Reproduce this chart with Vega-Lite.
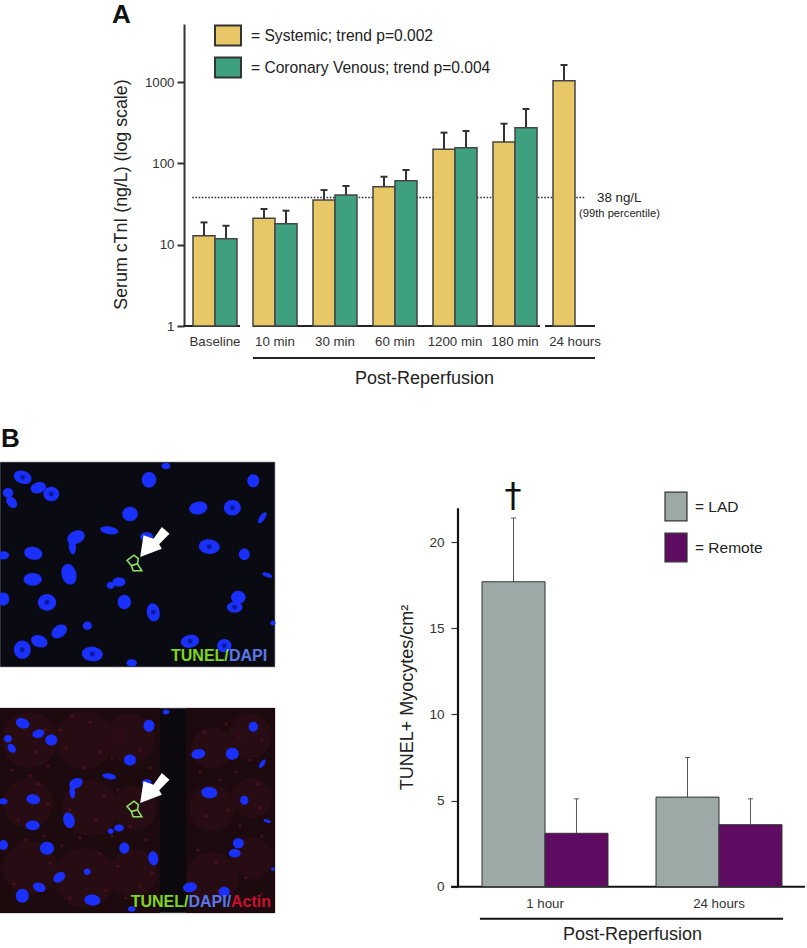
{
"$schema":"https://vega.github.io/schema/vega-lite/v6.json",
"width":807,"height":948,"autosize":{"type":"none"},"padding":0,"background":"white",
"config":{"font":"Liberation Sans","view":{"stroke":null},"text":{"font":"Liberation Sans"},"axis":{"labelColor":"#333","titleColor":"#222","grid":false,"domainColor":"#333","tickColor":"#333","titleFontWeight":"normal"}},
"datasets":{
"nuclei":[
{"x":22.7,"y":15.3,"len":14,"kind":"oval","angle":20,"ring":1},{"x":38.3,"y":25.7,"len":12,"kind":"oval","angle":345,"ring":0},{"x":51.3,"y":32,"len":12,"kind":"round","angle":0,"ring":1},{"x":8,"y":30.7,"len":8,"kind":"round","angle":0,"ring":0},{"x":11.7,"y":40.3,"len":10,"kind":"oval","angle":50,"ring":0},{"x":149,"y":17.7,"len":12,"kind":"round","angle":90,"ring":0},{"x":253.3,"y":18.7,"len":10,"kind":"round","angle":90,"ring":0},{"x":130,"y":52,"len":12,"kind":"round","angle":0,"ring":0},{"x":198.3,"y":46,"len":14,"kind":"oval","angle":350,"ring":0},{"x":232.3,"y":45.7,"len":13,"kind":"round","angle":0,"ring":1},{"x":262.3,"y":55.7,"len":10,"kind":"long","angle":305,"ring":0},{"x":109.3,"y":68.3,"len":14,"kind":"long","angle":10,"ring":0},{"x":76,"y":75.3,"len":14,"kind":"oval","angle":335,"ring":0},{"x":72.3,"y":84,"len":13,"kind":"long","angle":85,"ring":0},{"x":146.7,"y":74.7,"len":10,"kind":"oval","angle":0,"ring":0},{"x":209.3,"y":84.7,"len":16,"kind":"oval","angle":5,"ring":1},{"x":244.3,"y":92.3,"len":9,"kind":"round","angle":90,"ring":0},{"x":33.3,"y":91.3,"len":14,"kind":"oval","angle":10,"ring":0},{"x":3.3,"y":93.3,"len":9,"kind":"oval","angle":0,"ring":0},{"x":69,"y":112.3,"len":16,"kind":"oval","angle":75,"ring":0},{"x":32.7,"y":117.3,"len":14,"kind":"oval","angle":0,"ring":0},{"x":110.7,"y":123.3,"len":6,"kind":"round","angle":0,"ring":0},{"x":119,"y":120,"len":10,"kind":"oval","angle":0,"ring":0},{"x":3.3,"y":137,"len":10,"kind":"round","angle":90,"ring":0},{"x":47,"y":140.3,"len":14,"kind":"round","angle":0,"ring":1},{"x":124.3,"y":140,"len":11,"kind":"round","angle":90,"ring":0},{"x":153.3,"y":150.3,"len":14,"kind":"oval","angle":80,"ring":1},{"x":238.3,"y":135.3,"len":11,"kind":"round","angle":0,"ring":0},{"x":234.7,"y":145.3,"len":12,"kind":"oval","angle":0,"ring":1},{"x":267.3,"y":113,"len":8,"kind":"long","angle":20,"ring":0},{"x":59.3,"y":169.3,"len":13,"kind":"oval","angle":325,"ring":0},{"x":87.3,"y":163.7,"len":7,"kind":"round","angle":0,"ring":0},{"x":39.3,"y":179.3,"len":13,"kind":"oval","angle":20,"ring":0},{"x":22.3,"y":187.7,"len":14,"kind":"round","angle":90,"ring":1},{"x":92.3,"y":192,"len":16,"kind":"oval","angle":5,"ring":1},{"x":190,"y":179.3,"len":14,"kind":"oval","angle":350,"ring":1},{"x":224.3,"y":183.7,"len":11,"kind":"round","angle":0,"ring":1},{"x":131.7,"y":201,"len":8,"kind":"oval","angle":0,"ring":0},{"x":166,"y":4,"len":7,"kind":"oval","angle":0,"ring":0},{"x":273,"y":161,"len":4,"kind":"round","angle":0,"ring":0}],
"tissue":[{"x":0,"x2":160,"y":0,"y2":205},{"x":186,"x2":275,"y":0,"y2":205}],
"cells":[{"x":30,"y":32,"len":56},{"x":85,"y":32,"len":58},{"x":130,"y":30,"len":50},{"x":28,"y":95,"len":50},{"x":90,"y":100,"len":56},{"x":135,"y":100,"len":44},{"x":30,"y":160,"len":54},{"x":85,"y":170,"len":60},{"x":133,"y":165,"len":48},{"x":212,"y":40,"len":42},{"x":250,"y":28,"len":44},{"x":212,"y":100,"len":46},{"x":252,"y":90,"len":40},{"x":212,"y":170,"len":52},{"x":252,"y":150,"len":42}],
"speckle":[{"x":20,"y":12},{"x":45,"y":22},{"x":72,"y":8},{"x":90,"y":14},{"x":100,"y":44},{"x":112,"y":50},{"x":120,"y":28},{"x":140,"y":42},{"x":12,"y":62},{"x":30,"y":68},{"x":48,"y":58},{"x":66,"y":40},{"x":84,"y":60},{"x":104,"y":88},{"x":118,"y":82},{"x":96,"y":112},{"x":130,"y":118},{"x":146,"y":132},{"x":18,"y":112},{"x":48,"y":96},{"x":26,"y":132},{"x":62,"y":138},{"x":80,"y":130},{"x":100,"y":146},{"x":118,"y":158},{"x":140,"y":178},{"x":106,"y":182},{"x":70,"y":190},{"x":50,"y":155},{"x":14,"y":176},{"x":204,"y":24},{"x":226,"y":16},{"x":240,"y":28},{"x":262,"y":32},{"x":200,"y":64},{"x":220,"y":72},{"x":236,"y":64},{"x":258,"y":76},{"x":206,"y":108},{"x":228,"y":102},{"x":260,"y":100},{"x":198,"y":142},{"x":216,"y":154},{"x":240,"y":118},{"x":262,"y":128},{"x":196,"y":192},{"x":218,"y":182},{"x":246,"y":170},{"x":262,"y":186},{"x":36,"y":44},{"x":60,"y":22},{"x":150,"y":60},{"x":38,"y":76},{"x":70,"y":102},{"x":112,"y":128},{"x":44,"y":128},{"x":152,"y":165},{"x":126,"y":190},{"x":206,"y":84},{"x":250,"y":52}],
"serum":[
{"time":"Baseline","series":"Systemic","value":12.9,"upper":18.8},{"time":"Baseline","series":"Coronary Venous","value":11.8,"upper":17.1},
{"time":"10 min","series":"Systemic","value":21.1,"upper":27.5},{"time":"10 min","series":"Coronary Venous","value":18.1,"upper":26.2},
{"time":"30 min","series":"Systemic","value":35.5,"upper":47},{"time":"30 min","series":"Coronary Venous","value":40.9,"upper":52.7},
{"time":"60 min","series":"Systemic","value":51.7,"upper":68.6},{"time":"60 min","series":"Coronary Venous","value":61.3,"upper":83},
{"time":"1200 min","series":"Systemic","value":149,"upper":239},{"time":"1200 min","series":"Coronary Venous","value":156,"upper":250},
{"time":"180 min","series":"Systemic","value":183,"upper":308},{"time":"180 min","series":"Coronary Venous","value":275,"upper":467},
{"time":"24 hours","series":"Systemic","value":1040,"upper":1622}],
"tunel":[
{"time":"1 hour","site":"LAD","value":17.7,"upper":21.4},{"time":"1 hour","site":"Remote","value":3.1,"upper":5.1},
{"time":"24 hours","site":"LAD","value":5.2,"upper":7.5},{"time":"24 hours","site":"Remote","value":3.6,"upper":5.1}]
},
"layer":[
{"data":{"values":[{"a":-0.02,"b":0.917,"level":1},{"a":1.133,"b":5.917,"level":1},{"a":6,"b":6.833,"level":1},{"a":1.133,"b":6.833,"level":0.404}]},
 "layer":[
 {"mark":{"type":"rule","stroke":"#222","strokeWidth":2},"encoding":{"x":{"field":"a","type":"quantitative","axis":null,"scale":{"domain":[0,7],"range":[185,605],"nice":false,"zero":false}},"x2":{"field":"b"},"y":{"field":"level","type":"quantitative","axis":null,"scale":{"type":"log","domain":[1,5183],"range":[326,24],"nice":false}}}},
 {"data":{"values":[{"a":0.12,"b":6.67,"level":38}]},"mark":{"type":"rule","stroke":"#333","strokeWidth":1.6,"strokeDash":[1.6,1.6]},"encoding":{"x":{"field":"a","type":"quantitative"},"x2":{"field":"b"},"y":{"field":"level","type":"quantitative"}}},
 {"data":{"values":[{"a":6.867,"level":38,"t":"38 ng/L"}]},"mark":{"type":"text","align":"left","baseline":"middle","fontSize":13.3,"fill":"#222"},"encoding":{"x":{"field":"a","type":"quantitative"},"y":{"field":"level","type":"quantitative"},"text":{"field":"t"}}},
 {"data":{"values":[{"a":6.567,"level":23.9,"t":"(99th percentile)"}]},"mark":{"type":"text","align":"left","baseline":"middle","fontSize":11.2,"fill":"#222"},"encoding":{"x":{"field":"a","type":"quantitative"},"y":{"field":"level","type":"quantitative"},"text":{"field":"t"}}},
 {"data":{"values":[{"a":-1.217,"level":5333,"t":"A"}]},"mark":{"type":"text","align":"left","baseline":"alphabetic","fontSize":26,"fontWeight":"bold","fill":"#111"},"encoding":{"x":{"field":"a","type":"quantitative"},"y":{"field":"level","type":"quantitative"},"text":{"field":"t"}}}
 ]},
{"data":{"name":"serum"},
 "encoding":{"x":{"field":"time","type":"nominal","sort":null,"scale":{"domain":["Baseline","10 min","30 min","60 min","1200 min","180 min","24 hours"],"range":[185,605],"paddingInner":0,"paddingOuter":0},
   "axis":{"orient":"bottom","offset":-622,"domain":false,"ticks":false,"labelAngle":0,"labelFontSize":13.3,"labelPadding":8,"title":"Post-Reperfusion","titleFontSize":18,"titleX":424,"titleY":52,"titleBaseline":"middle"}},
  "xOffset":{"field":"series","type":"nominal","scale":{"domain":["Systemic","Coronary Venous"],"paddingInner":0,"paddingOuter":0.3636}}},
 "layer":[
 {"mark":{"type":"rule","stroke":"#333","strokeWidth":2},"encoding":{"y":{"field":"value","type":"quantitative","scale":{"type":"log","domain":[1,5183],"range":[326,24],"nice":false},
   "axis":{"orient":"left","offset":-184,"values":[1,10,100,1000],"format":"d","domainWidth":2,"tickWidth":2,"tickSize":7,"labelFontSize":13.3,"labelPadding":3,"title":"Serum cTnI (ng/L) (log scale)","titleFontSize":17.8,"titleX":-63,"titleY":194,"titleBaseline":"middle"}},"y2":{"field":"upper"}}},
 {"mark":{"type":"tick","color":"#333","size":7,"thickness":2,"opacity":1},"encoding":{"y":{"field":"upper","type":"quantitative"}}},
 {"mark":{"type":"bar","stroke":"#444","strokeWidth":1.5},"encoding":{"y":{"field":"value","type":"quantitative","stack":null},"y2":{"datum":1},
   "color":{"field":"series","type":"nominal","scale":{"domain":["Systemic","Coronary Venous"],"range":["#E8C766","#3FA080"]},
    "legend":{"orient":"none","legendX":217,"legendY":24.5,"title":null,"padding":0,"symbolType":"M-1.3,-1H1.3V1H-1.3Z","symbolSize":400,"symbolStrokeColor":"#333","symbolStrokeWidth":2,"symbolOpacity":1,"labelFontSize":15.6,"labelColor":"#222","labelOffset":12,"labelLimit":400,"rowPadding":4,"labelExpr":"datum.label == 'Systemic' ? '= Systemic; trend p=0.002' : '= Coronary Venous; trend p=0.004'"}}}}
 ]},
{"data":{"values":[{"x":0,"x2":275,"y":0,"y2":205}]},
 "layer":[
 {"mark":{"type":"rect","fill":"#0a0a12","stroke":"#999","strokeWidth":0.6},"encoding":{"x":{"field":"x","type":"quantitative","axis":null,"scale":{"domain":[0,275],"range":[0,275],"nice":false,"zero":false}},"x2":{"field":"x2"},"y":{"field":"y","type":"quantitative","axis":null,"scale":{"domain":[0,205],"range":[462,667],"nice":false,"zero":false}},"y2":{"field":"y2"}}},
 {"data":{"name":"nuclei"},"mark":{"type":"point","filled":true,"fill":"#1a30ff","opacity":1},"encoding":{"x":{"field":"x","type":"quantitative"},"y":{"field":"y","type":"quantitative"},"size":{"field":"len","type":"quantitative","legend":null,"scale":{"type":"pow","exponent":2,"domain":[1,20],"range":[1.7,680]}},"angle":{"field":"angle","type":"quantitative","scale":{"domain":[0,360],"range":[0,360]}},"shape":{"field":"kind","type":"nominal","legend":null,"scale":{"domain":["round","oval","long"],"range":["M-1,0A1,0.92 0 1,0 1,0A1,0.92 0 1,0 -1,0Z","M-1,0A1,0.7 0 1,0 1,0A1,0.7 0 1,0 -1,0Z","M-1,0A1,0.42 0 1,0 1,0A1,0.42 0 1,0 -1,0Z"]}}}},
 {"data":{"name":"nuclei"},"transform":[{"filter":"datum.ring == 1"}],"mark":{"type":"point","filled":true,"fill":"#0c1a9a","opacity":1,"size":24,"shape":"circle"},"encoding":{"x":{"field":"x","type":"quantitative"},"y":{"field":"y","type":"quantitative"}}},
 {"data":{"values":[{"x":134,"y":101}]},"mark":{"type":"point","filled":false,"stroke":"#8fe06a","strokeWidth":1.6,"opacity":1,"size":300,"shape":"M-0.8,-0.3L0,-0.9L0.5,-0.5L0.4,0.1L-0.3,0.3ZM-0.3,0.3L-0.1,0.9L0.9,0.9L0.4,0.1"},"encoding":{"x":{"field":"x","type":"quantitative"},"y":{"field":"y","type":"quantitative"}}},
 {"data":{"values":[{"x":154.5,"y":81}]},"mark":{"type":"point","filled":true,"fill":"white","opacity":1,"size":1111,"shape":"M-0.86,0.84L-0.66,-0.46L-0.06,-0.26L0.44,-0.96L0.9,-0.56L0.28,0.08L0.44,0.34Z"},"encoding":{"x":{"field":"x","type":"quantitative"},"y":{"field":"y","type":"quantitative"}}},
 {"data":{"values":[{"x":171,"y":194,"t":"TUNEL/","stain":"TUNEL"},{"x":229,"y":194,"t":"DAPI","stain":"DAPI"}]},"mark":{"type":"text","align":"left","baseline":"middle","fontSize":16,"fontWeight":"bold"},"encoding":{"x":{"field":"x","type":"quantitative"},"y":{"field":"y","type":"quantitative"},"text":{"field":"t"},"fill":{"field":"stain","type":"nominal","legend":null,"scale":{"domain":["TUNEL","DAPI","Actin"],"range":["#7fd61e","#5a78e8","#c8102e"]}}}},
 {"data":{"values":[{"x":1,"y":-23,"t":"B"}]},"mark":{"type":"text","align":"left","baseline":"middle","fontSize":26,"fontWeight":"bold","fill":"#111"},"encoding":{"x":{"field":"x","type":"quantitative"},"y":{"field":"y","type":"quantitative"},"text":{"field":"t"}}}
 ]},
{"data":{"values":[{"x":0,"x2":275,"y":0,"y2":205}]},
 "layer":[
 {"mark":{"type":"rect","fill":"#0b090d","stroke":"#999","strokeWidth":0.6},"encoding":{"x":{"field":"x","type":"quantitative","axis":null,"scale":{"domain":[0,275],"range":[0,275],"nice":false,"zero":false}},"x2":{"field":"x2"},"y":{"field":"y","type":"quantitative","axis":null,"scale":{"domain":[0,205],"range":[708,913],"nice":false,"zero":false}},"y2":{"field":"y2"}}},
 {"data":{"name":"tissue"},"mark":{"type":"rect","fill":"#1c0a0f"},"encoding":{"x":{"field":"x","type":"quantitative"},"x2":{"field":"x2"},"y":{"field":"y","type":"quantitative"},"y2":{"field":"y2"}}},
 {"data":{"name":"cells"},"mark":{"type":"point","filled":true,"fill":"#2a0d14","opacity":0.8,"shape":"circle"},"encoding":{"x":{"field":"x","type":"quantitative"},"y":{"field":"y","type":"quantitative"},"size":{"field":"len","type":"quantitative","legend":null,"scale":{"type":"pow","exponent":2,"domain":[1,70],"range":[1,4900]}}}},
 {"data":{"name":"speckle"},"mark":{"type":"point","filled":true,"fill":"#6a1522","opacity":0.6,"size":9,"shape":"circle"},"encoding":{"x":{"field":"x","type":"quantitative"},"y":{"field":"y","type":"quantitative"}}},
 {"data":{"name":"nuclei"},"mark":{"type":"point","filled":true,"fill":"#1a30ff","opacity":1},"encoding":{"x":{"field":"x","type":"quantitative"},"y":{"field":"y","type":"quantitative"},"size":{"field":"len","type":"quantitative","legend":null,"scale":{"type":"pow","exponent":2,"domain":[1,20],"range":[1.7,680]}},"angle":{"field":"angle","type":"quantitative","scale":{"domain":[0,360],"range":[0,360]}},"shape":{"field":"kind","type":"nominal","legend":null,"scale":{"domain":["round","oval","long"],"range":["M-1,0A1,0.92 0 1,0 1,0A1,0.92 0 1,0 -1,0Z","M-1,0A1,0.7 0 1,0 1,0A1,0.7 0 1,0 -1,0Z","M-1,0A1,0.42 0 1,0 1,0A1,0.42 0 1,0 -1,0Z"]}}}},
 {"data":{"values":[{"x":134,"y":101}]},"mark":{"type":"point","filled":false,"stroke":"#8fe06a","strokeWidth":1.6,"opacity":1,"size":300,"shape":"M-0.8,-0.3L0,-0.9L0.5,-0.5L0.4,0.1L-0.3,0.3ZM-0.3,0.3L-0.1,0.9L0.9,0.9L0.4,0.1"},"encoding":{"x":{"field":"x","type":"quantitative"},"y":{"field":"y","type":"quantitative"}}},
 {"data":{"values":[{"x":154.5,"y":81}]},"mark":{"type":"point","filled":true,"fill":"white","opacity":1,"size":1111,"shape":"M-0.86,0.84L-0.66,-0.46L-0.06,-0.26L0.44,-0.96L0.9,-0.56L0.28,0.08L0.44,0.34Z"},"encoding":{"x":{"field":"x","type":"quantitative"},"y":{"field":"y","type":"quantitative"}}},
 {"data":{"values":[{"x":130.7,"y":194,"t":"TUNEL/","stain":"TUNEL"},{"x":188.5,"y":194,"t":"DAPI/","stain":"DAPI"},{"x":231,"y":194,"t":"Actin","stain":"Actin"}]},"mark":{"type":"text","align":"left","baseline":"middle","fontSize":16,"fontWeight":"bold"},"encoding":{"x":{"field":"x","type":"quantitative"},"y":{"field":"y","type":"quantitative"},"text":{"field":"t"},"fill":{"field":"stain","type":"nominal","legend":null,"scale":{"domain":["TUNEL","DAPI","Actin"],"range":["#7fd61e","#5a78e8","#c8102e"]}}}}
 ]},
{"data":{"values":[{"a":-0.04,"b":1.994,"level":0},{"a":0.126,"b":1.868,"level":-1.855}]},
 "layer":[
 {"mark":{"type":"rule","stroke":"#111","strokeWidth":2},"encoding":{"x":{"field":"a","type":"quantitative","axis":null,"scale":{"domain":[0,2],"range":[458,806],"nice":false,"zero":false}},"x2":{"field":"b"},"y":{"field":"level","type":"quantitative","axis":null,"scale":{"domain":[0,22],"range":[886.7,507.7],"nice":false,"zero":false}}}},
 {"data":{"values":[{"a":0.316,"level":22.6,"t":"†"}]},"mark":{"type":"text","align":"center","baseline":"middle","fontSize":34,"font":"DejaVu Sans","fill":"#111"},"encoding":{"x":{"field":"a","type":"quantitative"},"y":{"field":"level","type":"quantitative"},"text":{"field":"t"}}}
 ]},
{"data":{"name":"tunel"},
 "encoding":{"x":{"field":"time","type":"nominal","sort":null,"scale":{"domain":["1 hour","24 hours"],"range":[458,806],"paddingInner":0,"paddingOuter":0},
   "axis":{"orient":"bottom","offset":-61.3,"domain":false,"ticks":false,"labelAngle":0,"labelFontSize":13.3,"labelPadding":10,"title":"Post-Reperfusion","titleFontSize":18,"titleX":632,"titleY":48,"titleBaseline":"middle"}},
  "xOffset":{"field":"site","type":"nominal","scale":{"domain":["LAD","Remote"],"paddingInner":0,"paddingOuter":0.381}}},
 "layer":[
 {"mark":{"type":"rule","stroke":"#555","strokeWidth":1},"encoding":{"y":{"field":"value","type":"quantitative","scale":{"domain":[0,22],"range":[886.7,507.7],"nice":false,"zero":false},
   "axis":{"orient":"left","offset":-457.5,"values":[0,5,10,15,20],"domainColor":"#111","domainWidth":2.2,"tickWidth":1.2,"tickSize":6.5,"labelFontSize":13.5,"labelPadding":7,"title":"TUNEL+ Myocytes/cm²","titleFontSize":18,"titleX":-50,"titleY":697,"titleBaseline":"middle"}},"y2":{"field":"upper"}}},
 {"mark":{"type":"tick","color":"#555","size":5,"thickness":1,"opacity":1},"encoding":{"y":{"field":"upper","type":"quantitative"}}},
 {"mark":{"type":"bar","stroke":"#333","strokeWidth":1},"encoding":{"y":{"field":"value","type":"quantitative","stack":null},"y2":{"datum":0},
   "color":{"field":"site","type":"nominal","scale":{"domain":["LAD","Remote"],"range":["#9CA9A7","#5E0C62"]},
    "legend":{"orient":"none","legendX":664,"legendY":494.5,"title":null,"padding":0,"symbolType":"M-1,-1.3H1V1.3H-1Z","symbolSize":484,"symbolStrokeColor":"#333","symbolStrokeWidth":1.2,"symbolOpacity":1,"labelFontSize":15.5,"labelColor":"#222","labelOffset":7,"rowPadding":7,"labelExpr":"'= ' + datum.label"}}}}
 ]}
],
"resolve":{"scale":{"x":"independent","y":"independent","color":"independent","fill":"independent","size":"independent","shape":"independent","angle":"independent","xOffset":"independent"},"axis":{"x":"independent","y":"independent"},"legend":{"color":"independent"}}
}
